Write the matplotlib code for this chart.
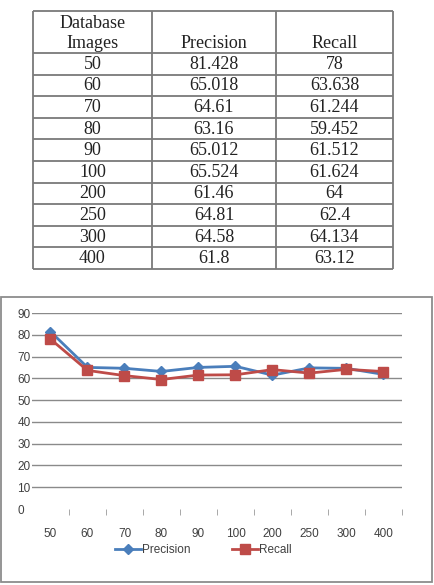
import matplotlib.pyplot as plt
from matplotlib.lines import Line2D
from matplotlib.patches import Rectangle

# data
images = ['50', '60', '70', '80', '90', '100', '200', '250', '300', '400']
precision = [81.428, 65.018, 64.61, 63.16, 65.012, 65.524, 61.46, 64.81, 64.58, 61.8]
recall = [78, 63.638, 61.244, 59.452, 61.512, 61.624, 64, 62.4, 64.134, 63.12]
header = ['Database\nImages', 'Precision', 'Recall']

W, H = 435, 585
fig = plt.figure(figsize=(W / 100, H / 100), dpi=100)

# ---- table (drawn in pixel space) ----
tab = fig.add_axes([0, 0, 1, 1])
tab.set_xlim(0, W)
tab.set_ylim(H, 0)
tab.axis('off')

col_x = [33, 152, 276, 393]
head_top, head_bot, row_h = 11, 53, 21.6
row_y = [head_top, head_bot] + [head_bot + row_h * (i + 1) for i in range(len(images))]
grid_kw = dict(color='#7a7a7a', lw=1.3, solid_capstyle='butt')
for y in row_y:
    tab.plot([col_x[0], col_x[-1]], [y, y], **grid_kw)
for x in col_x:
    tab.plot([x, x], [row_y[0], row_y[-1]], **grid_kw)

serif = dict(family='Liberation Serif', fontsize=13, color='#222222', ha='center')
centers = [(col_x[i] + col_x[i + 1]) / 2 for i in range(3)]
tab.text(centers[0], 23, 'Database', va='center', **serif)
tab.text(centers[0], 43, 'Images', va='center', **serif)
tab.text(centers[1], 43, header[1], va='center', **serif)
tab.text(centers[2], 43, header[2], va='center', **serif)
for i, (im, p, r) in enumerate(zip(images, precision, recall)):
    yc = row_y[i + 1] + row_h / 2 + 0.5
    tab.text(centers[0], yc, im, va='center', **serif)
    tab.text(centers[1], yc, f'{p:g}', va='center', **serif)
    tab.text(centers[2], yc, f'{r:g}', va='center', **serif)

# chart frame
tab.add_patch(Rectangle((0.5, 297), 431.5, 285, fill=False, ec='#8c8c8c', lw=1.3))

# ---- line chart ----
ax = fig.add_axes([32 / W, (H - 509) / H, 370 / W, 196 / H])
x = range(len(images))
ax.plot(x, precision, color='#4A7EBB', lw=2, marker='D', markersize=5,
        label='Precision', zorder=3)
ax.plot(x, recall, color='#BE4B48', lw=2, marker='s', markersize=6.5,
        label='Recall', zorder=4)

ax.set_xlim(-0.5, len(images) - 0.5)
ax.set_ylim(0, 90)
ax.set_yticks(range(0, 91, 10))
for v in range(10, 91, 10):
    ax.axhline(v, color='#8a8a8a', lw=1, zorder=1)
for s in ax.spines.values():
    s.set_visible(False)

ax.set_xticks(list(x))
ax.set_xticklabels(images)
ax.set_xticks([i + 0.5 for i in range(len(images))], minor=True)
ax.tick_params(axis='x', which='major', length=0, pad=14, labelsize=8.5,
               labelcolor='#404040')
ax.tick_params(axis='x', which='minor', length=4, color='#9a9a9a', direction='out')
ax.tick_params(axis='y', length=0, labelsize=8.5, labelcolor='#404040', pad=10.5)
for lbl in ax.get_yticklabels():
    lbl.set_horizontalalignment('left')
for lbl in ax.get_xticklabels() + ax.get_yticklabels():
    lbl.set_family('Liberation Sans')

handles = [Line2D([], [], color='#4A7EBB', lw=2, marker='D', markersize=5),
           Line2D([], [], color='#BE4B48', lw=2, marker='s', markersize=6.5)]
ax.legend(handles, ['Precision', 'Recall'], loc='center',
          bbox_to_anchor=(0.462, -0.209), ncol=2, frameon=False,
          handlelength=2.2, handletextpad=0.1, columnspacing=3.5,
          prop={'family': 'Liberation Sans', 'size': 8.5}, labelcolor='#404040')

fig.savefig('out.png', dpi=100)
